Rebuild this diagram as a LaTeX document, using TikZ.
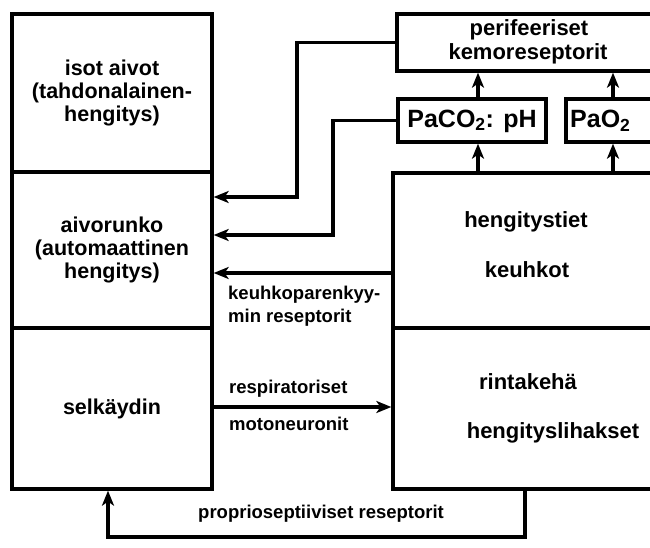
\documentclass[tikz,border=0pt]{standalone}
\usepackage{fontspec}
\setmainfont{Liberation Sans}
\usetikzlibrary{arrows.meta}
\begin{document}
\begin{tikzpicture}[x=1pt,y=-1pt,
  box/.style={draw,line width=3.3pt,inner sep=0pt,align=center,font=\bfseries\fontsize{21.5}{23}\selectfont},
  txt/.style={inner sep=0pt,font=\bfseries\fontsize{22}{24}\selectfont},
  lbl/.style={inner sep=0pt,align=left,font=\bfseries\fontsize{18.5}{22}\selectfont},
  arr/.style={line width=3.3pt,-{Stealth[length=15pt,width=12pt,inset=4pt]}}]
\useasboundingbox (0,0) rectangle (650,548);
\clip (0,0) rectangle (650,548);
% left column
\node[box,minimum width=200pt,minimum height=158pt] (isot) at (112,93) {isot aivot\\(tahdonalainen-\\hengitys)};
\node[box,minimum width=200pt,minimum height=156pt] (aivo) at (112,250) {aivorunko\\(automaattinen\\hengitys)};
\node[box,minimum width=200pt,minimum height=161pt] (selk) at (112,408.5) {\raisebox{3pt}{selkäydin}};
% right boxes
\node[box,minimum width=267pt,minimum height=155pt] (keuh) at (526.5,250.5) {};
\node[box,minimum width=267pt,minimum height=161pt] (rint) at (526.5,408.5) {};
\node[box,minimum width=263pt,minimum height=57pt] (perif) at (528.5,42.5) {};
\node[box,minimum width=148pt,minimum height=43pt] (paco) at (472,120.5) {};
\node[box,minimum width=96pt,minimum height=43pt] (pao) at (614,120.5) {};
% texts in right boxes
\node[txt] (tperif1) at (529,30) {perifeeriset};
\node[txt] (tperif2) at (528,54) {kemoreseptorit};
\node[inner sep=0pt,font=\bfseries\fontsize{25}{27}\selectfont] (tpaco) at (472,121) {PaCO\textsubscript{2}: pH};
\node[inner sep=0pt,anchor=west,font=\bfseries\fontsize{25}{27}\selectfont] (tpao) at (570,121) {PaO\textsubscript{2}};
\node[txt] (thengt) at (526,222) {hengitystiet};
\node[txt] (tkeuh) at (527,270) {keuhkot};
\node[txt] (trint) at (528,382) {rintakehä};
\node[txt] (thengl) at (553,433) {hengityslihakset};
% labels
\node[lbl,anchor=west] (lk1) at (228,295) {keuhkoparenkyy-};
\node[lbl,anchor=west] (lk2) at (228,318) {min reseptorit};
\node[lbl,anchor=west] (lr1) at (229,389) {respiratoriset};
\node[lbl,anchor=west] (lr2) at (229,424) {motoneuronit};
\node[lbl,anchor=west] (lp) at (198,514) {proprioseptiiviset reseptorit};
% coordinates
\coordinate (c1) at (297,197);
\coordinate (c2) at (333,235);
\coordinate (k1) at (300,273);
\coordinate (m1) at (300,407);
\coordinate (p1) at (525,537);
\coordinate (p2) at (108,537);
\coordinate (v1) at (478,0);
\coordinate (v2) at (613,0);
% connectors
\draw[arr] (perif.west) -| (c1) -- (c1 -| aivo.east);
\draw[arr] (paco.west) -| (c2) -- (c2 -| aivo.east);
\draw[arr] (k1 -| keuh.west) -- (k1 -| aivo.east);
\draw[arr] (m1 -| selk.east) -- (m1 -| rint.west);
\draw[arr] (p1 |- rint.south) -- (p1) -- (p2) -- (p2 |- selk.south);
\draw[arr] (v1 |- keuh.north) -- (v1 |- paco.south);
\draw[arr] (v1 |- paco.north) -- (v1 |- perif.south);
\draw[arr] (v2 |- keuh.north) -- (v2 |- pao.south);
\draw[arr] (v2 |- pao.north) -- (v2 |- perif.south);
\end{tikzpicture}
\end{document}
